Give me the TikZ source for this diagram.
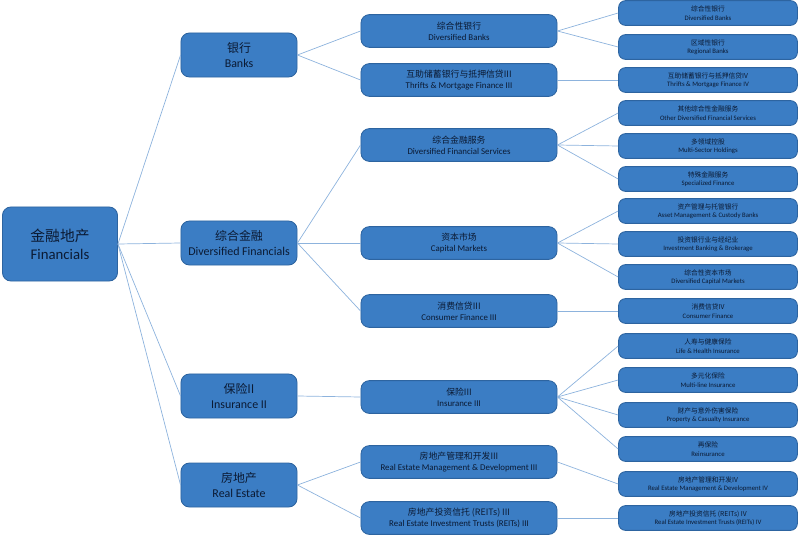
\documentclass[tikz,border=0pt]{standalone}
\usepackage{fontspec}
\setmainfont{Carlito}
\newfontfamily\cjk{Noto Sans CJK SC}
\usetikzlibrary{positioning}
\definecolor{boxblue}{HTML}{3B7DC4}
\definecolor{boxedge}{HTML}{2D64A0}
\definecolor{linkblue}{HTML}{8DB3DD}
\definecolor{txtdark}{HTML}{0B1A33}
\newcommand{\lbl}[2]{{\cjk #1}\\#2}

\begin{document}
\begin{tikzpicture}[x=0.025cm, y=-0.025cm,
    box/.style={draw=boxedge, fill=boxblue, rounded corners=6pt, text=txtdark, align=center, inner sep=0pt, line width=0.6pt},
    root/.style={box, minimum width=2.875cm, minimum height=1.85cm, font=\fontsize{10.5}{13}\selectfont},
    lone/.style={box, minimum width=2.9cm, minimum height=1.1cm, font=\fontsize{8.5}{10.5}\selectfont},
    ltwo/.style={box, minimum width=4.9cm, minimum height=0.82cm, font=\fontsize{6.3}{8}\selectfont},
    lthree/.style={box, minimum width=4.47cm, minimum height=0.62cm, rounded corners=5pt, font=\fontsize{4.8}{6}\selectfont},
    link/.style={draw=linkblue, line width=0.5pt}]
    \useasboundingbox (0,0) rectangle (800,538);

    % Define nodes
    \node[root] (fin) at (60,244) {\lbl{金融地产}{Financials}};

    \node[lone] (banks) at (239,55) {\lbl{银行}{Banks}};
    \node[lone] (divfin) at (239,243) {\lbl{综合金融}{Diversified Financials}};
    \node[lone] (ins) at (239,396) {\lbl{保险II}{Insurance II}};
    \node[lone] (realest) at (239,485) {\lbl{房地产}{Real Estate}};

    \node[ltwo] (dbanks) at (459,31) {\lbl{综合性银行}{Diversified Banks}};
    \node[ltwo] (thrifts) at (459,80) {\lbl{互助储蓄银行与抵押信贷III}{Thrifts \& Mortgage Finance III}};
    \node[ltwo] (dfserv) at (459,145) {\lbl{综合金融服务}{Diversified Financial Services}};
    \node[ltwo] (capmkt) at (459,243) {\lbl{资本市场}{Capital Markets}};
    \node[ltwo] (consfin) at (459,311) {\lbl{消费信贷III}{Consumer Finance III}};
    \node[ltwo] (insthree) at (459,397) {\lbl{保险III}{Insurance III}};
    \node[ltwo] (remgmt) at (459,462) {\lbl{房地产管理和开发III}{Real Estate Management \& Development III}};
    \node[ltwo] (reits) at (459,518) {\lbl{房地产投资信托 (REITs) III}{Real Estate Investment Trusts (REITs) III}};

    \node[lthree] (c1) at (708,13) {\lbl{综合性银行}{Diversified Banks}};
    \node[lthree] (c2) at (708,47) {\lbl{区域性银行}{Regional Banks}};
    \node[lthree] (c3) at (708,80) {\lbl{互助储蓄银行与抵押信贷IV}{Thrifts \& Mortgage Finance IV}};
    \node[lthree] (c4) at (708,113) {\lbl{其他综合性金融服务}{Other Diversified Financial Services}};
    \node[lthree] (c5) at (708,146) {\lbl{多领域控股}{Multi-Sector Holdings}};
    \node[lthree] (c6) at (708,179) {\lbl{特殊金融服务}{Specialized Finance}};
    \node[lthree] (c7) at (708,211) {\lbl{资产管理与托管银行}{Asset Management \& Custody Banks}};
    \node[lthree] (c8) at (708,244) {\lbl{投资银行业与经纪业}{Investment Banking \& Brokerage}};
    \node[lthree] (c9) at (708,277) {\lbl{综合性资本市场}{Diversified Capital Markets}};
    \node[lthree] (c10) at (708,311) {\lbl{消费信贷IV}{Consumer Finance}};
    \node[lthree] (c11) at (708,346) {\lbl{人寿与健康保险}{Life \& Health Insurance}};
    \node[lthree] (c12) at (708,380) {\lbl{多元化保险}{Multi-line Insurance}};
    \node[lthree] (c13) at (708,415) {\lbl{财产与意外伤害保险}{Property \& Casualty Insurance}};
    \node[lthree] (c14) at (708,449) {\lbl{再保险}{Reinsurance}};
    \node[lthree] (c15) at (708,484) {\lbl{房地产管理和开发IV}{Real Estate Management \& Development IV}};
    \node[lthree] (c16) at (708,518) {\lbl{房地产投资信托 (REITs) IV}{Real Estate Investment Trusts (REITs) IV}};

    % Draw edges
    \foreach \b in {banks, divfin, ins, realest}
        \draw[link] (fin.east) -- (\b.west);
    \foreach \a/\b in {banks/dbanks, banks/thrifts, divfin/dfserv, divfin/capmkt, divfin/consfin, ins/insthree, realest/remgmt, realest/reits}
        \draw[link] (\a.east) -- (\b.west);
    \foreach \a/\b in {dbanks/c1, dbanks/c2, thrifts/c3, dfserv/c4, dfserv/c5, dfserv/c6, capmkt/c7, capmkt/c8, capmkt/c9, consfin/c10, insthree/c11, insthree/c12, insthree/c13, insthree/c14, remgmt/c15, reits/c16}
        \draw[link] (\a.east) -- (\b.west);
\end{tikzpicture}
\end{document}
